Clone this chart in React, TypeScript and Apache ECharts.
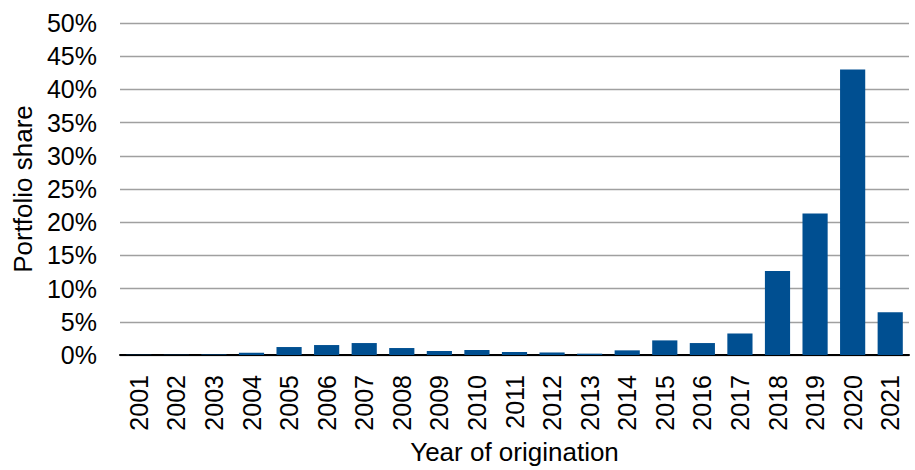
import React, { useEffect, useRef } from "react";
import * as echarts from "echarts";

const years = ["2001","2002","2003","2004","2005","2006","2007","2008","2009","2010","2011","2012","2013","2014","2015","2016","2017","2018","2019","2020","2021"];
const shares = [0.02, 0.04, 0.08, 0.33, 1.2, 1.5, 1.8, 1.05, 0.6, 0.75, 0.45, 0.38, 0.2, 0.7, 2.2, 1.8, 3.24, 12.65, 21.3, 43.0, 6.44];
const yTicks = [0, 5, 10, 15, 20, 25, 30, 35, 40, 45, 50];

const FONT = "'Liberation Sans', Arial, sans-serif";

export default function App() {
  const ref = useRef<HTMLDivElement>(null);
  useEffect(() => {
    if (!ref.current) return;
    const chart = echarts.init(ref.current, null, { renderer: "svg" });
    chart.setOption({
      animation: false,
      textStyle: { fontFamily: FONT },
      grid: { left: 120, right: 6, top: 23, bottom: 112, containLabel: false },
      xAxis: {
        type: "category",
        data: years,
        name: "Year of origination",
        nameLocation: "middle",
        nameGap: 84,
        nameTextStyle: { fontSize: 26, color: "#000", fontFamily: FONT },
        axisLine: { lineStyle: { color: "#000", width: 2 } },
        axisTick: { show: false },
        axisLabel: { rotate: 90, fontSize: 25, color: "#000", margin: 20, fontFamily: FONT, interval: 0 },
      },
      yAxis: {
        type: "value",
        min: yTicks[0],
        max: yTicks[yTicks.length - 1],
        interval: 5,
        name: "Portfolio share",
        nameLocation: "middle",
        nameGap: 84,
        nameTextStyle: { fontSize: 26, color: "#000", fontFamily: FONT },
        axisLine: { show: false },
        axisTick: { show: false },
        axisLabel: { formatter: "{value}%", fontSize: 25, color: "#000", margin: 23, fontFamily: FONT },
        splitLine: { lineStyle: { color: "#a0a0a0", width: 1.4 } },
      },
      series: [
        {
          type: "bar",
          data: shares,
          barCategoryGap: "33%",
          itemStyle: { color: "#004f91" },
        },
      ],
    });
    return () => chart.dispose();
  }, []);
  return (
    <div style={{ position: "fixed", left: 0, top: 0, width: 915, height: 470, overflow: "hidden", background: "#fff" }}>
      <div ref={ref} style={{ width: 915, height: 470 }} />
    </div>
  );
}
